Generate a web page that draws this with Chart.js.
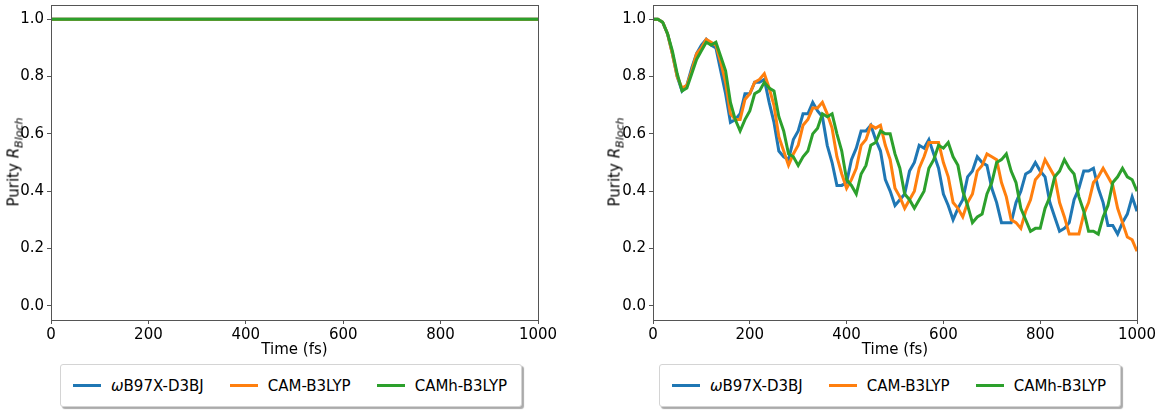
<!DOCTYPE html>
<html>
<head>
<meta charset="utf-8">
<script src="https://cdn.jsdelivr.net/npm/chart.js@4"></script>
<style>
  body { margin: 0; width: 1169px; height: 410px; background: #fff; position: relative; overflow: hidden;
         font-family: "DejaVu Sans", sans-serif; color: #000; }
  .panel { position: absolute; top: 0; height: 360px; }
  .ylab { position: absolute; top: 162px; font-size: 15px; white-space: nowrap;
          transform: translate(-50%, -50%) rotate(-90deg); }
  .ylab sub { font-size: 11px; }
  .legend { position: absolute; top: 364px; height: 41px; border: 1px solid #d4d4d4; border-radius: 3px;
            box-shadow: 2px 2px 1px #aaa; background: #fff; display: flex; align-items: center;
            padding: 0 14px 0 12px; font-size: 15px; }
  .item { display: flex; align-items: center; margin-right: 26px; }
  .item:last-child { margin-right: 0; }
  .swatch { width: 28px; height: 3px; margin-right: 10px; }
</style>
</head>
<body>
<div class="panel" style="left:0;width:570px"><canvas id="left"></canvas></div>
<div class="panel" style="left:600px;width:569px"><canvas id="right"></canvas></div>
<div class="ylab" style="left:15px">Purity <i>R</i><sub><i>Bloch</i></sub></div>
<div class="ylab" style="left:616px">Purity <i>R</i><sub><i>Bloch</i></sub></div>
<div class="legend" style="left:60px" id="legL"></div>
<div class="legend" style="left:659px" id="legR"></div>
<script>
const seriesNames = ['\u03c9B97X-D3BJ', 'CAM-B3LYP', 'CAMh-B3LYP'];
const seriesColors = ['#1f77b4', '#ff7f0e', '#2ca02c'];
const xTicks = [0, 200, 400, 600, 800, 1000];
const yTicks = [0.0, 0.2, 0.4, 0.6, 0.8, 1.0];

// left panel: purity stays at 1
const leftTimes = [0, 1000];
const leftBlue = [1.0, 1.0];
const leftOrange = [1.0, 1.0];
const leftGreen = [1.0, 1.0];

// right panel: sampled every 10 fs
const times = Array.from({ length: 101 }, (_, i) => i * 10);
const blue = [
  1.00, 1.00, 0.99, 0.95, 0.88, 0.80, 0.75, 0.77, 0.83, 0.88,
  0.91, 0.93, 0.91, 0.90, 0.82, 0.74, 0.64, 0.65, 0.67, 0.74,
  0.74, 0.78, 0.78, 0.79, 0.71, 0.64, 0.54, 0.52, 0.51, 0.58,
  0.61, 0.67, 0.67, 0.71, 0.68, 0.66, 0.56, 0.50, 0.42, 0.42,
  0.43, 0.51, 0.55, 0.61, 0.61, 0.63, 0.58, 0.54, 0.44, 0.40,
  0.35, 0.37, 0.39, 0.47, 0.50, 0.56, 0.55, 0.58, 0.53, 0.48,
  0.39, 0.35, 0.30, 0.34, 0.37, 0.45, 0.47, 0.52, 0.50, 0.49,
  0.41, 0.36, 0.29, 0.29, 0.29, 0.36, 0.40, 0.46, 0.47, 0.50,
  0.47, 0.45, 0.36, 0.31, 0.26, 0.27, 0.29, 0.37, 0.41, 0.47,
  0.47, 0.48, 0.41, 0.36, 0.28, 0.28, 0.25, 0.29, 0.32, 0.38,
  0.33
];
const orange = [
  1.00, 1.00, 0.99, 0.95, 0.88, 0.80, 0.76, 0.77, 0.82, 0.88,
  0.90, 0.93, 0.92, 0.91, 0.85, 0.78, 0.67, 0.65, 0.65, 0.72,
  0.74, 0.78, 0.79, 0.81, 0.76, 0.70, 0.59, 0.54, 0.49, 0.53,
  0.56, 0.63, 0.65, 0.69, 0.69, 0.71, 0.67, 0.62, 0.52, 0.46,
  0.41, 0.44, 0.48, 0.56, 0.58, 0.63, 0.62, 0.63, 0.56, 0.51,
  0.41, 0.38, 0.34, 0.37, 0.40, 0.48, 0.52, 0.57, 0.57, 0.57,
  0.50, 0.45, 0.36, 0.34, 0.31, 0.36, 0.39, 0.47, 0.49, 0.53,
  0.52, 0.51, 0.43, 0.38, 0.30, 0.29, 0.27, 0.33, 0.37, 0.44,
  0.46, 0.51, 0.48, 0.45, 0.36, 0.31, 0.25, 0.25, 0.25, 0.32,
  0.36, 0.43, 0.45, 0.48, 0.45, 0.42, 0.34, 0.29, 0.24, 0.23,
  0.19
];
const green = [
  1.00, 1.00, 0.99, 0.95, 0.89, 0.81, 0.75, 0.76, 0.81, 0.86,
  0.89, 0.92, 0.91, 0.92, 0.87, 0.82, 0.71, 0.65, 0.61, 0.65,
  0.68, 0.74, 0.75, 0.78, 0.76, 0.75, 0.66, 0.61, 0.53, 0.52,
  0.49, 0.52, 0.54, 0.60, 0.62, 0.67, 0.66, 0.67, 0.60, 0.54,
  0.44, 0.42, 0.39, 0.46, 0.49, 0.56, 0.57, 0.61, 0.60, 0.60,
  0.53, 0.48, 0.39, 0.37, 0.34, 0.37, 0.40, 0.48, 0.51, 0.56,
  0.55, 0.57, 0.52, 0.49, 0.40, 0.35, 0.29, 0.31, 0.32, 0.39,
  0.43, 0.50, 0.51, 0.53, 0.47, 0.43, 0.34, 0.30, 0.26, 0.27,
  0.27, 0.34, 0.38, 0.45, 0.47, 0.51, 0.48, 0.46, 0.38, 0.33,
  0.26, 0.26, 0.25, 0.31, 0.35, 0.43, 0.45, 0.48, 0.45, 0.44,
  0.40
];

// box around the plot area, like matplotlib spines
const frame = {
  id: 'frame',
  afterDraw(chart) {
    const { ctx, chartArea: a } = chart;
    ctx.save();
    ctx.strokeStyle = '#555';
    ctx.lineWidth = 1;
    ctx.strokeRect(Math.round(a.left) + 0.5, Math.round(a.top) + 0.5,
                   Math.round(a.right - a.left), Math.round(a.bottom - a.top));
    ctx.restore();
  }
};

function makeChart(id, xs, ys, yAxisWidth) {
  const datasets = ys.map((vals, i) => ({
    label: seriesNames[i],
    data: xs.map((t, j) => ({ x: t, y: vals[j] })),
    borderColor: seriesColors[i],
    borderWidth: 3,
    pointRadius: 0,
    tension: 0,
    order: 3 - i
  }));
  const tickFont = { family: 'DejaVu Sans', size: 15 };
  return new Chart(document.getElementById(id), {
    type: 'line',
    data: { datasets },
    options: {
      responsive: true,
      maintainAspectRatio: false,
      animation: false,
      layout: { padding: { top: 5, right: 32, left: 0, bottom: 0 } },
      plugins: { legend: { display: false }, tooltip: { enabled: false } },
      scales: {
        x: {
          type: 'linear', min: 0, max: 1000,
          afterBuildTicks: s => { s.ticks = xTicks.map(v => ({ value: v })); },
          afterFit: s => { s.height = 40; },
          grid: { drawOnChartArea: false, tickLength: 4, color: '#555' },
          border: { display: false },
          ticks: { font: tickFont, color: '#000', padding: 2, maxRotation: 0, callback: v => String(v) },
          title: { display: true, text: 'Time (fs)', font: tickFont, color: '#000', padding: { top: 0, bottom: 1 } }
        },
        y: {
          min: -0.05, max: 1.05,
          afterBuildTicks: s => { s.ticks = yTicks.map(v => ({ value: v })); },
          afterFit: s => { s.width = yAxisWidth; s.paddingTop = 0; s.paddingBottom = 0; },
          grid: { drawOnChartArea: false, tickLength: 4, color: '#555' },
          border: { display: false },
          ticks: { font: tickFont, color: '#000', padding: 3, callback: v => v.toFixed(1) }
        }
      }
    },
    plugins: [frame]
  });
}

makeChart('left', leftTimes, [leftBlue, leftOrange, leftGreen], 51);
makeChart('right', times, [blue, orange, green], 53);

function buildLegend(id) {
  const box = document.getElementById(id);
  seriesNames.forEach((name, i) => {
    const item = document.createElement('div');
    item.className = 'item';
    const sw = document.createElement('span');
    sw.className = 'swatch';
    sw.style.background = seriesColors[i];
    const txt = document.createElement('span');
    if (i === 0) {
      txt.innerHTML = '<i>\u03c9</i>B97X-D3BJ';
    } else {
      txt.textContent = name;
    }
    item.appendChild(sw);
    item.appendChild(txt);
    box.appendChild(item);
  });
}
buildLegend('legL');
buildLegend('legR');
</script>
</body>
</html>
